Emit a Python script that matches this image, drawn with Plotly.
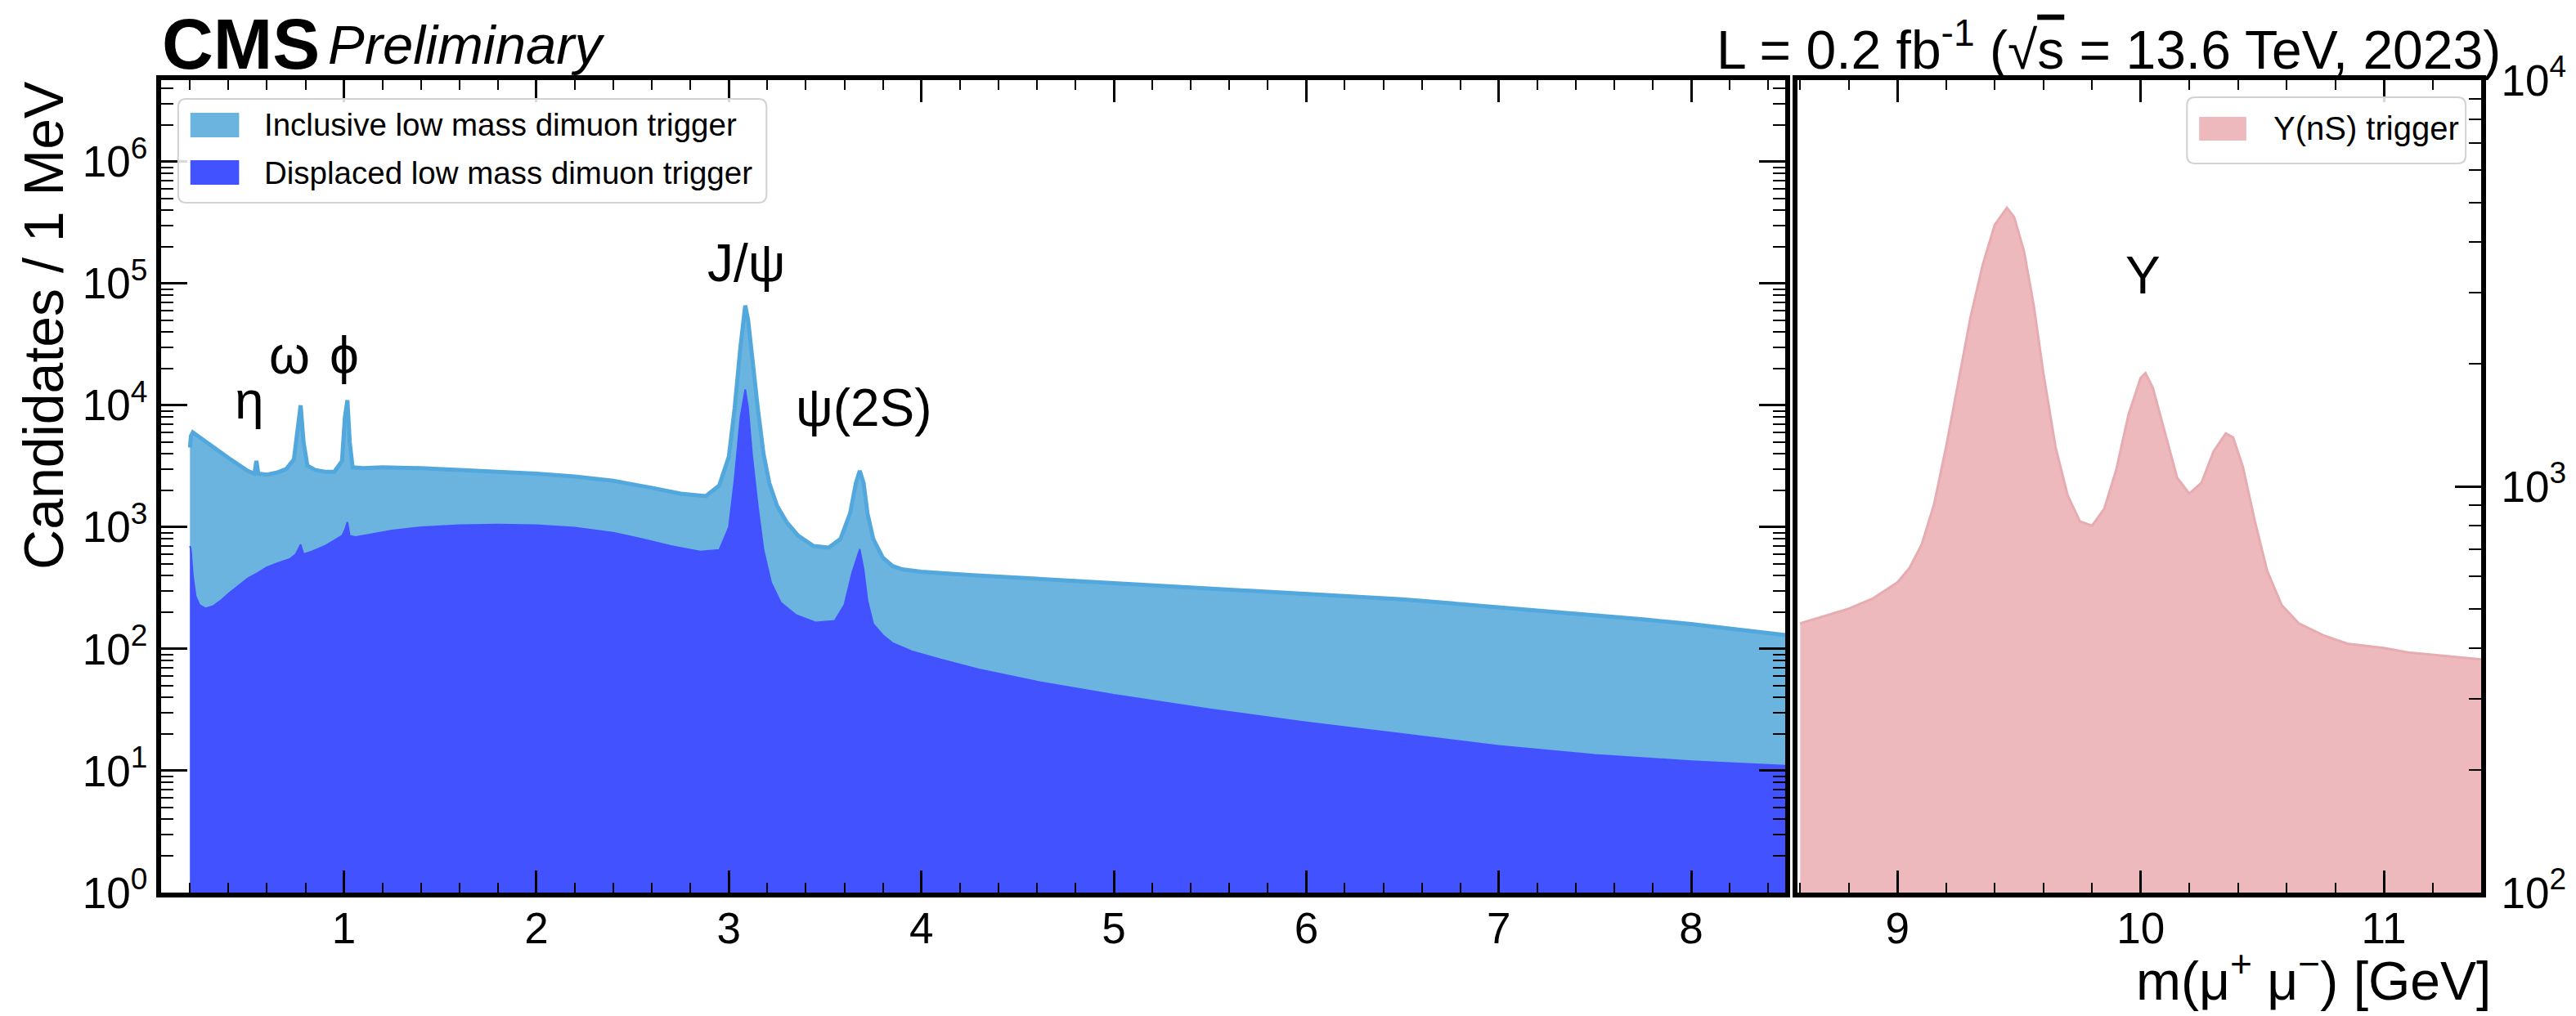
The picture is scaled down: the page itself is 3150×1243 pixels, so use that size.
import math
import plotly.graph_objects as go

# ---------------- data ----------------
# Inclusive low mass dimuon trigger: mass [GeV] and candidates per 1 MeV
incl_mass = [0.200, 0.205, 0.215, 0.24, 0.28, 0.32, 0.36, 0.40, 0.45, 0.50, 0.535, 0.545, 0.555,
             0.60, 0.65, 0.70, 0.74, 0.76, 0.775, 0.79, 0.81, 0.85, 0.90, 0.95, 0.99, 1.005, 1.018,
             1.03, 1.045, 1.10, 1.20, 1.40, 1.60, 1.80, 2.00, 2.20, 2.40, 2.60, 2.75, 2.88, 2.95,
             3.00, 3.03, 3.06, 3.085, 3.10, 3.12, 3.15, 3.18, 3.21, 3.25, 3.30, 3.36, 3.44, 3.52,
             3.58, 3.63, 3.66, 3.68, 3.70, 3.72, 3.75, 3.80, 3.85, 3.90, 4.00, 4.25, 4.50, 4.75,
             5.00, 5.25, 5.50, 5.75, 6.00, 6.25, 6.50, 6.75, 7.00, 7.25, 7.50, 7.75, 8.00, 8.25,
             8.49]
incl_counts = [4500, 5600, 6000, 5600, 5000, 4500, 4100, 3700, 3300, 2900, 2750, 3500, 2750,
               2700, 2800, 3000, 3600, 6500, 10000, 5000, 3200, 2950, 2850, 2850, 3500, 8000,
               11000, 5000, 3100, 3050, 3100, 3050, 2950, 2850, 2750, 2600, 2400, 2100, 1880,
               1800, 2200, 3800, 9500, 30000, 66000, 50000, 25000, 9500, 4000, 2300, 1500, 1100,
               850, 700, 680, 800, 1300, 2300, 2900, 2300, 1300, 800, 560, 480, 450, 430, 405,
               385, 365, 345, 330, 315, 300, 285, 270, 255, 237, 220, 205, 190, 175, 160, 145, 130]

# Displaced low mass dimuon trigger
disp_mass = [0.200, 0.205, 0.215, 0.23, 0.25, 0.28, 0.32, 0.36, 0.40, 0.45, 0.50, 0.55, 0.60,
             0.66, 0.72, 0.75, 0.775, 0.79, 0.83, 0.90, 0.95, 0.99, 1.005, 1.018, 1.03, 1.06, 1.15,
             1.25, 1.40, 1.60, 1.80, 2.00, 2.20, 2.40, 2.55, 2.70, 2.85, 2.95, 3.00, 3.03, 3.06,
             3.085, 3.10, 3.12, 3.15, 3.18, 3.22, 3.27, 3.35, 3.45, 3.55, 3.60, 3.64, 3.68, 3.70,
             3.72, 3.75, 3.80, 3.85, 3.95, 4.10, 4.30, 4.60, 5.00, 5.50, 6.00, 6.50, 7.00, 7.50,
             8.00, 8.49]
disp_counts = [700, 650, 400, 270, 230, 215, 225, 250, 285, 330, 380, 420, 470, 510, 550, 600,
               720, 600, 630, 700, 780, 850, 950, 1100, 850, 830, 880, 940, 1000, 1040, 1050,
               1040, 990, 900, 800, 700, 630, 650, 1000, 2500, 8000, 13500, 9500, 4000, 1500, 650,
               350, 240, 190, 165, 170, 230, 420, 660, 450, 250, 160, 130, 112, 96, 82, 68, 54,
               42, 32, 25, 20, 16, 13.5, 12, 11]

# Upsilon(nS) trigger
ups_mass = [8.60, 8.70, 8.80, 8.90, 9.00, 9.05, 9.10, 9.15, 9.20, 9.25, 9.30, 9.35, 9.40, 9.45,
            9.48, 9.52, 9.56, 9.60, 9.65, 9.70, 9.75, 9.80, 9.85, 9.90, 9.95, 10.00, 10.02, 10.05,
            10.10, 10.15, 10.20, 10.25, 10.30, 10.35, 10.38, 10.42, 10.47, 10.52, 10.58, 10.65,
            10.75, 10.85, 11.00, 11.10, 11.20, 11.30, 11.40]
ups_counts = [460, 480, 500, 530, 580, 630, 720, 900, 1250, 1800, 2600, 3500, 4400, 4850, 4600,
              3800, 2800, 1900, 1250, 950, 820, 800, 880, 1100, 1500, 1850, 1900, 1750, 1350,
              1050, 960, 1020, 1220, 1350, 1320, 1120, 820, 620, 510, 460, 430, 410, 400, 390,
              385, 380, 375]

left_xticks = [1, 2, 3, 4, 5, 6, 7, 8]
right_xticks = [9, 10, 11]
left_ydecades = [0, 1, 2, 3, 4, 5, 6]
right_ydecades = [2, 3, 4]

# ---------------- geometry ----------------
W, H = 3150, 1243
ML, MR, MT, MB = 197, 98, 98, 151
PW, PH = W - ML - MR, H - MT - MB
FONT = "Liberation Sans, Arial, Helvetica, sans-serif"

def pxx(X):
    return (X - ML) / PW

def pxy(Y):
    return (H - MB - Y) / PH

C_INCL = "#6CB4E0"
C_INCL_EDGE = "#52A8DC"
C_DISP = "#4352FF"
C_UPS = "#EDB9BD"
C_UPS_EDGE = "#E7ACB1"

fig = go.Figure()
fig.add_trace(go.Scatter(x=incl_mass, y=incl_counts, mode="lines", fill="tozeroy",
                         fillcolor=C_INCL, line=dict(color=C_INCL_EDGE, width=5),
                         name="Inclusive low mass dimuon trigger", xaxis="x", yaxis="y"))
fig.add_trace(go.Scatter(x=disp_mass, y=disp_counts, mode="lines", fill="tozeroy",
                         fillcolor=C_DISP, line=dict(color=C_DISP, width=2),
                         name="Displaced low mass dimuon trigger", xaxis="x", yaxis="y"))
fig.add_trace(go.Scatter(x=ups_mass, y=ups_counts, mode="lines", fill="tozeroy",
                         fillcolor=C_UPS, line=dict(color=C_UPS_EDGE, width=3),
                         name="Υ(nS) trigger", xaxis="x2", yaxis="y2"))

split = (2196 - ML) / PW
split2 = (2211 - ML) / PW

axis_common = dict(showline=True, linecolor="black", linewidth=6, ticks="inside",
                   tickcolor="black", showgrid=False, zeroline=False,
                   tickfont=dict(family=FONT, size=53, color="black"))

left_minor_y = [m * 10 ** k for k in range(0, 7) for m in range(2, 10)]
right_minor_y = [m * 10 ** k for k in range(2, 4) for m in range(2, 10)]

fig.update_layout(
    width=W, height=H, margin=dict(l=ML, r=MR, t=MT, b=MB),
    paper_bgcolor="white", plot_bgcolor="white", showlegend=False,
    font=dict(family=FONT, color="black"),
    xaxis=dict(domain=[0, split], range=[0.05, 8.49], anchor="y", mirror="allticks",
               tickvals=left_xticks, ticklen=27, tickwidth=3, ticklabelstandoff=-8,
               minor=dict(dtick=0.2, tick0=0, ticks="inside", ticklen=12, tickwidth=2,
                          tickcolor="black"),
               **axis_common),
    yaxis=dict(domain=[0, 1], type="log", range=[0, 6.67], anchor="x", mirror="allticks",
               tickvals=[10 ** d for d in left_ydecades],
               ticktext=[f"10<sup>{d}</sup>" for d in left_ydecades],
               ticklen=32, tickwidth=3, ticklabelstandoff=0,
               minor=dict(tickvals=left_minor_y, ticks="inside", ticklen=15, tickwidth=2,
                          tickcolor="black"),
               **axis_common),
    xaxis2=dict(domain=[split2, 1], range=[8.59, 11.40], anchor="y2", mirror="allticks",
                tickvals=right_xticks, ticklen=27, tickwidth=3, ticklabelstandoff=-8,
                minor=dict(dtick=0.2, tick0=0, ticks="inside", ticklen=12, tickwidth=2,
                           tickcolor="black"),
                **axis_common),
    yaxis2=dict(domain=[0, 1], type="log", range=[2, 4], anchor="x2", side="right", mirror=True,
                tickvals=[10 ** d for d in right_ydecades],
                ticktext=[f"10<sup>{d}</sup>" for d in right_ydecades],
                ticklen=32, tickwidth=3, ticklabelstandoff=8,
                minor=dict(tickvals=right_minor_y, ticks="inside", ticklen=15, tickwidth=2,
                           tickcolor="black"),
                **axis_common),
)

ann = []
# header
ann.append(dict(xref="paper", yref="paper", x=pxx(196), y=pxy(53), xanchor="left", yanchor="middle",
                text="<b>CMS</b>", showarrow=False, font=dict(family=FONT, size=87, color="black")))
ann.append(dict(xref="paper", yref="paper", x=pxx(400), y=pxy(55), xanchor="left", yanchor="middle",
                text="<i>Preliminary</i>", showarrow=False,
                font=dict(family=FONT, size=67, color="black")))
ann.append(dict(xref="paper", yref="paper", x=pxx(3078), y=pxy(56), xanchor="right", yanchor="middle",
                text="L = 0.2 fb<sup>-1</sup> (√<span style='text-decoration:overline'>s</span> = 13.6 TeV, 2023)",
                showarrow=False, font=dict(family=FONT, size=66, color="black")))
# axis titles
ann.append(dict(xref="paper", yref="paper", x=pxx(52), y=pxy(398), xanchor="center", yanchor="middle",
                textangle=-90, text="Candidates / 1 MeV", showarrow=False,
                font=dict(family=FONT, size=68, color="black")))
ann.append(dict(xref="paper", yref="paper", x=pxx(3066), y=pxy(1195), xanchor="right", yanchor="middle",
                text="m(μ<sup>+</sup> μ<sup>−</sup>) [GeV]", showarrow=False,
                font=dict(family=FONT, size=66, color="black")))
# resonance labels (data coordinates; log axis -> log10 value)
peak_names = ["η", "ω", "ϕ", "J/ψ", "ψ(2S)"]
peak_x = [0.51, 0.715, 1.0, 3.09, 3.70]
peak_logy = [4.04, 4.41, 4.41, 5.17, 3.98]
for n, x, ly in zip(peak_names, peak_x, peak_logy):
    ann.append(dict(xref="x", yref="y", x=x, y=ly, xanchor="center", yanchor="middle", text=n,
                    showarrow=False, font=dict(family=FONT, size=64, color="black")))
ann.append(dict(xref="x2", yref="y2", x=10.01, y=3.52, xanchor="center", yanchor="middle", text="Υ",
                showarrow=False, font=dict(family=FONT, size=64, color="black")))

shapes = []

def rounded_box(X0, Y0, X1, Y1, r=10):
    x0, x1 = pxx(X0), pxx(X1)
    y0, y1 = pxy(Y1), pxy(Y0)
    rx, ry = r / PW, r / PH
    p = (f"M {x0+rx},{y0} L {x1-rx},{y0} Q {x1},{y0} {x1},{y0+ry} L {x1},{y1-ry} "
         f"Q {x1},{y1} {x1-rx},{y1} L {x0+rx},{y1} Q {x0},{y1} {x0},{y1-ry} "
         f"L {x0},{y0+ry} Q {x0},{y0} {x0+rx},{y0} Z")
    return dict(type="path", xref="paper", yref="paper", path=p,
                fillcolor="rgba(255,255,255,0.85)", line=dict(color="rgba(210,210,210,1)", width=2),
                layer="above")

def swatch(X0, Y0, X1, Y1, color):
    return dict(type="rect", xref="paper", yref="paper", x0=pxx(X0), x1=pxx(X1), y0=pxy(Y1),
                y1=pxy(Y0), fillcolor=color, line=dict(width=0), layer="above")

legend_left = [("Inclusive low mass dimuon trigger", C_INCL), ("Displaced low mass dimuon trigger", C_DISP)]
shapes.append(rounded_box(218, 121, 942, 248))
for i, (name, col) in enumerate(legend_left):
    yc = 153 + 58 * i
    shapes.append(swatch(233, yc - 15, 293, yc + 15, col))
    ann.append(dict(xref="paper", yref="paper", x=pxx(322), y=pxy(yc), xanchor="left",
                    yanchor="middle", text=name, showarrow=False,
                    font=dict(family=FONT, size=38.5, color="black")))
shapes.append(rounded_box(2690, 119, 3033, 200))
shapes.append(swatch(2705, 143, 2763, 172, C_UPS))
ann.append(dict(xref="paper", yref="paper", x=pxx(2794), y=pxy(157), xanchor="left",
                yanchor="middle", text="Υ(nS) trigger", showarrow=False,
                font=dict(family=FONT, size=40, color="black")))

fig.update_layout(annotations=ann, shapes=shapes)
fig.write_html("out.html")
